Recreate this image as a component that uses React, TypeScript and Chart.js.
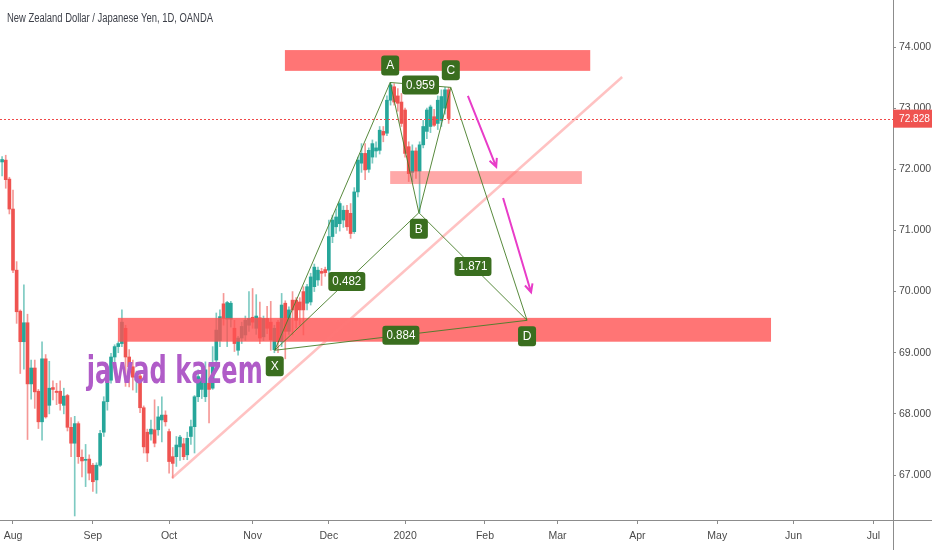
import React, { useEffect, useRef } from 'react';
import { Chart, registerables } from 'chart.js';

Chart.register(...registerables);

// ---- data (trading-day index: 0 = 1 Aug 2019) ----
const FIRST_INDEX = -3;
const opens = [
  72.12, 72.15, 71.84, 71.35, 70.35, 69.68, 69.18, 69.49, 68.49, 68.75,
  68.37, 67.87, 68.90, 68.14, 68.43, 68.37, 68.37, 68.14, 68.30, 67.78,
  67.52, 67.84, 67.29, 67.24, 67.26, 67.16, 66.92, 67.16, 67.70, 68.20,
  68.55, 68.93, 69.10, 69.15, 69.40, 68.93, 68.77, 68.55, 68.62, 68.10,
  67.70, 67.67, 67.74, 67.74, 67.90, 67.98, 67.71, 67.30, 67.30, 67.46,
  67.51, 67.33, 67.63, 67.79, 68.28, 68.40, 68.28, 68.50, 68.42, 68.88,
  69.20, 69.80, 69.55, 69.55, 69.40, 69.04, 69.24, 69.29, 69.45, 69.58,
  69.40, 69.57, 69.26, 69.56, 69.50, 69.05, 69.50, 69.18, 69.81, 69.35,
  69.86, 69.86, 69.83, 70.00, 69.81, 69.83, 70.08, 70.19, 70.33, 70.36,
  70.35, 70.90, 71.06, 71.11, 71.17, 71.33, 71.28, 70.98, 71.63, 72.10,
  72.26, 72.00, 72.20, 72.30, 72.31, 72.62, 72.59, 73.13, 73.35, 73.20,
  73.10, 72.97, 72.37, 71.95, 72.30, 71.97, 72.40, 72.62, 72.70, 72.86,
  72.75, 72.80, 73.00, 73.30,
];
const highs = [
  72.21, 72.23, 71.87, 71.66, 70.49, 69.70, 70.11, 69.63, 68.88, 68.88,
  68.40, 69.18, 68.97, 68.86, 68.54, 68.50, 68.54, 68.42, 68.32, 67.94,
  67.96, 67.87, 67.41, 67.50, 67.33, 67.19, 67.20, 67.73, 68.28, 68.58,
  68.99, 69.13, 69.18, 69.70, 69.45, 69.05, 68.88, 68.70, 68.66, 68.13,
  67.75, 67.90, 68.23, 68.12, 68.28, 68.05, 67.75, 67.45, 67.63, 67.65,
  67.60, 67.70, 67.90, 68.30, 68.72, 68.80, 68.85, 68.82, 69.10, 69.65,
  69.70, 69.97, 69.84, 69.84, 69.53, 69.27, 69.50, 69.60, 70.00, 70.05,
  69.95, 69.83, 69.60, 69.76, 69.84, 69.45, 69.53, 69.97, 69.85, 69.75,
  70.00, 69.90, 69.90, 70.08, 70.12, 70.30, 70.45, 70.40, 70.38, 70.40,
  71.17, 71.25, 71.35, 71.47, 71.40, 71.41, 71.44, 71.70, 72.20, 72.42,
  72.42, 72.35, 72.48, 72.45, 72.70, 72.70, 73.20, 73.42, 73.40, 73.32,
  73.24, 73.00, 72.45, 72.40, 72.35, 72.45, 72.80, 73.00, 73.05, 72.98,
  73.20, 73.30, 73.34, 73.34,
];
const lows = [
  71.89, 71.69, 71.27, 70.31, 69.48, 68.66, 68.73, 67.58, 68.24, 68.09,
  67.76, 67.57, 67.93, 68.00, 68.23, 68.15, 68.06, 68.00, 67.72, 67.30,
  66.33, 67.19, 66.97, 66.81, 66.92, 66.73, 66.70, 67.14, 67.63, 68.06,
  68.50, 68.80, 69.00, 69.10, 68.45, 68.44, 68.39, 68.35, 68.02, 67.36,
  67.22, 67.57, 67.46, 67.65, 67.54, 67.80, 67.03, 66.95, 67.14, 67.24,
  67.25, 67.25, 67.50, 67.36, 68.20, 68.25, 68.20, 67.85, 68.40, 68.80,
  69.10, 69.45, 69.10, 69.42, 69.02, 68.96, 69.15, 69.20, 69.35, 69.40,
  69.30, 69.15, 69.20, 69.31, 69.04, 69.00, 69.00, 69.10, 68.90, 69.30,
  69.29, 69.40, 69.45, 69.29, 69.70, 69.78, 70.00, 70.10, 70.10, 70.25,
  70.29, 70.80, 70.95, 70.99, 71.05, 71.00, 70.87, 70.95, 71.55, 71.95,
  71.83, 71.95, 72.10, 72.20, 72.25, 72.45, 72.55, 73.05, 73.05, 72.95,
  72.70, 72.20, 71.80, 71.80, 71.85, 71.29, 72.35, 72.50, 72.60, 72.70,
  72.65, 72.70, 72.90, 72.75,
];
const closes = [
  72.16, 71.83, 71.35, 70.35, 69.67, 69.18, 69.49, 68.49, 68.75, 68.36,
  67.87, 68.90, 67.95, 68.42, 68.40, 68.35, 68.17, 68.29, 67.78, 67.52,
  67.84, 67.30, 67.23, 67.25, 67.03, 66.89, 67.16, 67.68, 68.20, 68.55,
  68.93, 69.10, 69.15, 69.50, 68.93, 68.77, 68.60, 68.62, 68.10, 67.46,
  67.36, 67.75, 67.52, 67.95, 67.98, 67.87, 67.22, 67.19, 67.49, 67.62,
  67.30, 67.60, 67.79, 68.28, 68.61, 68.55, 68.72, 68.40, 68.83, 69.37,
  69.59, 69.56, 69.82, 69.81, 69.15, 69.24, 69.43, 69.53, 69.56, 69.50,
  69.60, 69.24, 69.56, 69.40, 69.21, 69.40, 69.18, 69.78, 69.35, 69.70,
  69.70, 69.53, 69.70, 69.70, 70.08, 70.24, 70.40, 70.35, 70.30, 70.31,
  70.90, 71.17, 71.22, 71.44, 71.33, 71.06, 70.95, 71.63, 72.15, 72.26,
  71.99, 72.31, 72.42, 72.35, 72.64, 72.56, 73.13, 73.38, 73.10, 73.08,
  72.75, 72.26, 71.93, 72.30, 71.97, 72.40, 72.70, 72.97, 73.02, 72.72,
  73.13, 73.19, 73.30, 72.83,
];

const monthTickIndex = [0, 22, 43, 66, 87, 108, 130, 150, 172, 194, 215, 237];
const monthTickLabels = ['Aug', 'Sep', 'Oct', 'Nov', 'Dec', '2020', 'Feb', 'Mar', 'Apr', 'May', 'Jun', 'Jul'];
const priceTicks = [67, 68, 69, 70, 71, 72, 73, 74];

// XABCD harmonic pattern
const patternNames = ['X', 'A', 'B', 'C', 'D'];
const patternIndex = [72.1, 103.9, 111.8, 120.6, 141.6];
const patternPrice = [69.04, 73.42, 71.29, 73.34, 69.53];
const ratioLabels = ['0.482', '0.959', '1.871', '0.884'];
const ratioPairs = [[0, 2], [1, 3], [2, 4], [0, 4]];

// supply / demand zones
const zoneStart = [74.9, 103.9, 28.9];
const zoneEnd = [159.0, 156.7, 208.8];
const zoneTop = [73.95, 71.97, 69.57];
const zoneBottom = [73.61, 71.76, 69.18];
const zoneAlpha = [0.8, 0.5, 0.8];

// trend line
const trendIndex = [43.8, 167.8];
const trendPrice = [66.95, 73.51];

// arrows
const arrowFromIndex = [125.3, 135.0];
const arrowFromPrice = [73.2, 71.53];
const arrowToIndex = [133.1, 142.7];
const arrowToPrice = [72.04, 69.99];

const lastPrice = 72.828;
const titleText = 'New Zealand Dollar / Japanese Yen, 1D, OANDA';
const watermarkText = 'jawad kazem';
const watermarkIndex = 20.3;
const watermarkPrice = 68.5;

const X_MIN = -3.58;
const X_MAX = 242.4;
const Y_MIN = 66.264;
const Y_MAX = 74.769;

const GREEN_BOX = '#3a6e1f';
const PATTERN_LINE = 'rgba(70,125,40,0.9)';

function roundBox(ctx: CanvasRenderingContext2D, x: number, y: number, w: number, h: number, r: number) {
  ctx.beginPath();
  ctx.moveTo(x + r, y);
  ctx.lineTo(x + w - r, y);
  ctx.quadraticCurveTo(x + w, y, x + w, y + r);
  ctx.lineTo(x + w, y + h - r);
  ctx.quadraticCurveTo(x + w, y + h, x + w - r, y + h);
  ctx.lineTo(x + r, y + h);
  ctx.quadraticCurveTo(x, y + h, x, y + h - r);
  ctx.lineTo(x, y + r);
  ctx.quadraticCurveTo(x, y, x + r, y);
  ctx.closePath();
}

function zeroPadding(scale: any) {
  scale.paddingLeft = 0;
  scale.paddingRight = 0;
  scale.paddingTop = 0;
  scale.paddingBottom = 0;
}

const overlayPlugin = {
  id: 'overlay',
  afterDatasetDraw(chart: any, args: any) {
    if (args.index !== 1) return;
    const { ctx, chartArea } = chart;
    const xs = chart.scales.x;
    const ys = chart.scales.y;
    ctx.save();
    ctx.beginPath();
    ctx.rect(chartArea.left, chartArea.top, chartArea.right - chartArea.left, chartArea.bottom - chartArea.top);
    ctx.clip();
    for (let k = 0; k < zoneStart.length; k++) {
      const x0 = xs.getPixelForValue(zoneStart[k]);
      const x1 = xs.getPixelForValue(zoneEnd[k]);
      const y0 = ys.getPixelForValue(zoneTop[k]);
      const y1 = ys.getPixelForValue(zoneBottom[k]);
      ctx.fillStyle = `rgba(255,82,82,${zoneAlpha[k]})`;
      ctx.fillRect(x0, y0, x1 - x0, y1 - y0);
    }
    ctx.restore();
  },
  afterDatasetsDraw(chart: any) {
    const { ctx, chartArea } = chart;
    const xs = chart.scales.x;
    const ys = chart.scales.y;
    ctx.save();
    ctx.beginPath();
    ctx.rect(chartArea.left, chartArea.top, chartArea.right - chartArea.left, chartArea.bottom - chartArea.top);
    ctx.clip();

    // current price dotted line
    const py = Math.round(ys.getPixelForValue(lastPrice)) + 0.5;
    ctx.strokeStyle = '#f04848';
    ctx.lineWidth = 1;
    ctx.setLineDash([2, 2]);
    ctx.beginPath();
    ctx.moveTo(chartArea.left, py);
    ctx.lineTo(chartArea.right, py);
    ctx.stroke();
    ctx.setLineDash([]);

    // arrows
    ctx.strokeStyle = '#e83cc8';
    ctx.lineWidth = 2;
    for (let k = 0; k < arrowFromIndex.length; k++) {
      const x0 = xs.getPixelForValue(arrowFromIndex[k]);
      const y0 = ys.getPixelForValue(arrowFromPrice[k]);
      const x1 = xs.getPixelForValue(arrowToIndex[k]);
      const y1 = ys.getPixelForValue(arrowToPrice[k]);
      ctx.beginPath();
      ctx.moveTo(x0, y0);
      ctx.lineTo(x1, y1);
      const ang = Math.atan2(y1 - y0, x1 - x0);
      const hl = 9;
      ctx.moveTo(x1 - hl * Math.cos(ang - 0.45), y1 - hl * Math.sin(ang - 0.45));
      ctx.lineTo(x1, y1);
      ctx.lineTo(x1 - hl * Math.cos(ang + 0.45), y1 - hl * Math.sin(ang + 0.45));
      ctx.stroke();
    }

    // ratio labels
    ctx.textAlign = 'center';
    ctx.textBaseline = 'middle';
    for (let k = 0; k < ratioPairs.length; k++) {
      const [a, b] = ratioPairs[k];
      const cx = (xs.getPixelForValue(patternIndex[a]) + xs.getPixelForValue(patternIndex[b])) / 2;
      const cy = (ys.getPixelForValue(patternPrice[a]) + ys.getPixelForValue(patternPrice[b])) / 2;
      const w = 37;
      const h = 19;
      ctx.fillStyle = GREEN_BOX;
      roundBox(ctx, cx - w / 2, cy - h / 2, w, h, 3);
      ctx.fill();
      ctx.fillStyle = '#ffffff';
      ctx.font = '12px "Liberation Sans", Arial, sans-serif';
      ctx.fillText(ratioLabels[k], cx, cy + 0.5, 29);
    }

    // point letters
    for (let k = 0; k < patternNames.length; k++) {
      const vx = xs.getPixelForValue(patternIndex[k]);
      const vy = ys.getPixelForValue(patternPrice[k]);
      const isHigh = patternNames[k] === 'A' || patternNames[k] === 'C';
      const cy = isHigh ? vy - 17 : vy + 16;
      const w = 18;
      const h = 20;
      ctx.fillStyle = GREEN_BOX;
      roundBox(ctx, vx - w / 2, cy - h / 2, w, h, 3);
      ctx.fill();
      ctx.fillStyle = '#ffffff';
      ctx.font = '12px "Liberation Sans", Arial, sans-serif';
      ctx.fillText(patternNames[k], vx, cy + 0.5);
    }

    // watermark text
    const wx = xs.getPixelForValue(watermarkIndex);
    const wy = ys.getPixelForValue(watermarkPrice);
    ctx.textAlign = 'left';
    ctx.textBaseline = 'alphabetic';
    ctx.fillStyle = '#b05cc8';
    ctx.font = 'bold 37px "DejaVu Sans Condensed", "DejaVu Sans", sans-serif';
    ctx.fillText(watermarkText, wx, wy, 176);
    ctx.restore();
  },
  afterDraw(chart: any) {
    const { ctx, chartArea } = chart;
    const ys = chart.scales.y;
    ctx.save();
    // axis line extensions
    ctx.strokeStyle = '#8c8c8c';
    ctx.lineWidth = 1;
    ctx.beginPath();
    ctx.moveTo(Math.round(chartArea.right) + 0.5, 0);
    ctx.lineTo(Math.round(chartArea.right) + 0.5, 550);
    ctx.moveTo(0, Math.round(chartArea.bottom) + 0.5);
    ctx.lineTo(932, Math.round(chartArea.bottom) + 0.5);
    ctx.stroke();

    // last price tag
    const py = ys.getPixelForValue(lastPrice);
    ctx.fillStyle = '#ef5350';
    ctx.fillRect(chartArea.right, py - 9, 932 - chartArea.right, 18);
    ctx.fillStyle = '#ffffff';
    ctx.font = '11px "Liberation Sans", Arial, sans-serif';
    ctx.textAlign = 'left';
    ctx.textBaseline = 'middle';
    ctx.fillText(lastPrice.toFixed(3), chartArea.right + 6, py + 0.5, 31);

    // title
    ctx.fillStyle = '#3d4049';
    ctx.font = '12.5px "Liberation Sans", Arial, sans-serif';
    ctx.textBaseline = 'alphabetic';
    ctx.fillText(titleText, 7, 22, 206);
    ctx.restore();
  },
};

export default function App() {
  const ref = useRef<HTMLCanvasElement>(null);

  useEffect(() => {
    document.body.style.margin = '0';
    const canvas = ref.current;
    if (!canvas) return;
    const n = opens.length;
    const idx = Array.from({ length: n }, (_, k) => FIRST_INDEX + k);
    const isUp = (k: number) => closes[k] >= opens[k];
    const wickData = idx.map((i, k) => ({ x: i, y: [lows[k], highs[k]] }));
    const bodyData = idx.map((i, k) => ({ x: i, y: [opens[k], closes[k]] }));
    const wickColors = idx.map((_, k) => (isUp(k) ? 'rgba(38,166,154,0.6)' : 'rgba(239,83,80,0.6)'));
    const bodyColors = idx.map((_, k) => (isUp(k) ? '#26a69a' : '#ef5350'));

    const pt = (k: number) => ({ x: patternIndex[k], y: patternPrice[k] });

    const datasets: any[] = [
      {
        type: 'bar',
        data: wickData,
        backgroundColor: wickColors,
        barThickness: 1,
        grouped: false,
        order: 10,
      },
      {
        type: 'bar',
        data: bodyData,
        backgroundColor: bodyColors,
        barThickness: 3,
        minBarLength: 1,
        grouped: false,
        order: 9,
      },
      {
        type: 'line',
        data: trendIndex.map((x, k) => ({ x, y: trendPrice[k] })),
        borderColor: 'rgba(255,120,120,0.45)',
        borderWidth: 2.5,
        pointRadius: 0,
        order: 5,
      },
      {
        type: 'line',
        data: patternIndex.map((_, k) => pt(k)),
        borderColor: PATTERN_LINE,
        borderWidth: 1,
        pointRadius: 0,
        order: 1,
      },
      ...ratioPairs.map(([a, b]) => ({
        type: 'line',
        data: [pt(a), pt(b)],
        borderColor: PATTERN_LINE,
        borderWidth: 1,
        pointRadius: 0,
        order: 1,
      })),
    ];

    const chart = new Chart(canvas, {
      type: 'bar',
      data: { datasets },
      options: {
        responsive: false,
        maintainAspectRatio: false,
        animation: false,
        events: [],
        layout: { padding: 0 },
        plugins: {
          legend: { display: false },
          tooltip: { enabled: false },
          title: { display: false },
        },
        scales: {
          x: {
            type: 'linear',
            min: X_MIN,
            max: X_MAX,
            offset: false,
            afterBuildTicks: (scale: any) => {
              scale.ticks = monthTickIndex.map((v) => ({ value: v }));
            },
            afterFit: (scale: any) => {
              scale.height = 30;
              zeroPadding(scale);
            },
            ticks: {
              autoSkip: false,
              maxRotation: 0,
              padding: 6,
              color: '#4a4a4a',
              font: { family: '"Liberation Sans", Arial, sans-serif', size: 10.5 },
              callback: (_v: any, i: number) => monthTickLabels[i] ?? '',
            },
            grid: {
              display: true,
              drawOnChartArea: false,
              drawTicks: true,
              tickLength: 4,
              offset: false,
              color: '#8c8c8c',
            },
            border: { display: true, color: '#8c8c8c' },
          },
          y: {
            type: 'linear',
            position: 'right',
            min: Y_MIN,
            max: Y_MAX,
            beginAtZero: false,
            afterBuildTicks: (scale: any) => {
              scale.ticks = priceTicks.map((v) => ({ value: v }));
            },
            afterFit: (scale: any) => {
              scale.width = 39;
              zeroPadding(scale);
            },
            ticks: {
              padding: 3,
              color: '#4a4a4a',
              font: { family: '"Liberation Sans", Arial, sans-serif', size: 10.5 },
              callback: (v: any) => Number(v).toFixed(3),
            },
            grid: {
              display: true,
              drawOnChartArea: false,
              drawTicks: true,
              tickLength: 3,
              color: '#8c8c8c',
            },
            border: { display: true, color: '#8c8c8c' },
          },
        },
      } as any,
      plugins: [overlayPlugin],
    });

    return () => {
      chart.destroy();
    };
  }, []);

  return (
    <div style={{ width: 932, height: 550, background: '#ffffff' }}>
      <canvas ref={ref} width={932} height={550} style={{ display: 'block' }} />
    </div>
  );
}
